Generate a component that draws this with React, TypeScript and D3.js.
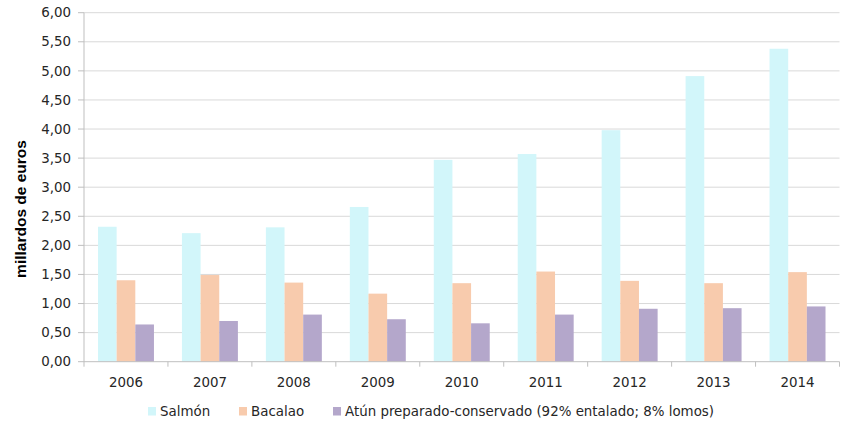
import React from "react";
import * as d3 from "d3";

const years = ["2006", "2007", "2008", "2009", "2010", "2011", "2012", "2013", "2014"];
const salmon = [2.32, 2.21, 2.31, 2.66, 3.47, 3.57, 3.98, 4.91, 5.38];
const bacalao = [1.4, 1.49, 1.36, 1.17, 1.35, 1.55, 1.39, 1.35, 1.54];
const atun = [0.64, 0.7, 0.81, 0.73, 0.66, 0.81, 0.91, 0.92, 0.95];
const seriesNames = ["Salmón", "Bacalao", "Atún preparado-conservado (92% entalado; 8% lomos)"];
const colors = ["#D2F6FA", "#F8CBAD", "#B4A7CB"];
const yTicks = [0, 0.5, 1, 1.5, 2, 2.5, 3, 3.5, 4, 4.5, 5, 5.5, 6];

const W = 842;
const H = 423;
const left = 84;
const right = 839.5;
const top = 12.7;
const bottom = 361.7;
const font = "'DejaVu Sans', Verdana, sans-serif";

export default function App() {
  const x = d3.scaleBand<string>().domain(years).range([left, right]).paddingInner(0).paddingOuter(0);
  const y = d3.scaleLinear().domain([0, 6]).range([bottom, top]);
  const bw = x.bandwidth();
  const barW = bw / 4.5;
  const inner = d3.scaleBand<number>().domain([0, 1, 2]).range([bw * 0.75 / 4.5, bw - (bw * 0.75) / 4.5]).padding(0);
  const series = [salmon, bacalao, atun];
  const fmt = (v: number) => v.toFixed(2).replace(".", ",");

  const legendX = [148, 239, 333];
  return (
    <svg width={W} height={H} style={{ position: "absolute", left: 0, top: 0, background: "#fff" }} fontFamily={font}>
      {yTicks.map((t) => (
        <g key={t}>
          {t > 0 && <line x1={left} x2={right} y1={y(t)} y2={y(t)} stroke="#D9D9D9" strokeWidth={1} />}
          <line x1={left - 6} x2={left} y1={y(t)} y2={y(t)} stroke="#BFBFBF" strokeWidth={1} />
          <text x={71} y={y(t)} dy="0.35em" textAnchor="end" fontSize={13.4} fill="#262626">
            {fmt(t)}
          </text>
        </g>
      ))}
      {series.map((vals, si) =>
        vals.map((v, i) => (
          <rect
            key={`${si}-${i}`}
            x={(x(years[i]) as number) + (inner(si) as number)}
            y={y(v)}
            width={barW}
            height={bottom - y(v)}
            fill={colors[si]}
          />
        ))
      )}
      <line x1={left} x2={left} y1={top} y2={bottom} stroke="#BFBFBF" strokeWidth={1} />
      <line x1={left} x2={right} y1={bottom} y2={bottom} stroke="#BFBFBF" strokeWidth={1} />
      {years.map((yr) => (
        <text key={yr} x={(x(yr) as number) + bw / 2} y={382} dy="0.35em" textAnchor="middle" fontSize={13.4} fill="#262626">
          {yr}
        </text>
      ))}
      {[...years.map((yr) => x(yr) as number), right].map((xx, i) => (
        <line key={i} x1={xx} x2={xx} y1={bottom} y2={bottom + 5} stroke="#BFBFBF" strokeWidth={1} />
      ))}
      <text
        transform={`translate(21,209) rotate(-90)`}
        textAnchor="middle"
        dy="0.35em"
        fontSize={15.5}
        fontWeight="bold"
        fontFamily="'Liberation Sans', Arial, sans-serif"
        fill="#000"
      >
        millardos de euros
      </text>
      {seriesNames.map((n, i) => (
        <g key={n}>
          <rect x={legendX[i]} y={407} width={8} height={8.5} fill={colors[i]} />
          <text x={legendX[i] + 12} y={411} dy="0.35em" fontSize={13.4} fill="#262626">
            {n}
          </text>
        </g>
      ))}
    </svg>
  );
}
